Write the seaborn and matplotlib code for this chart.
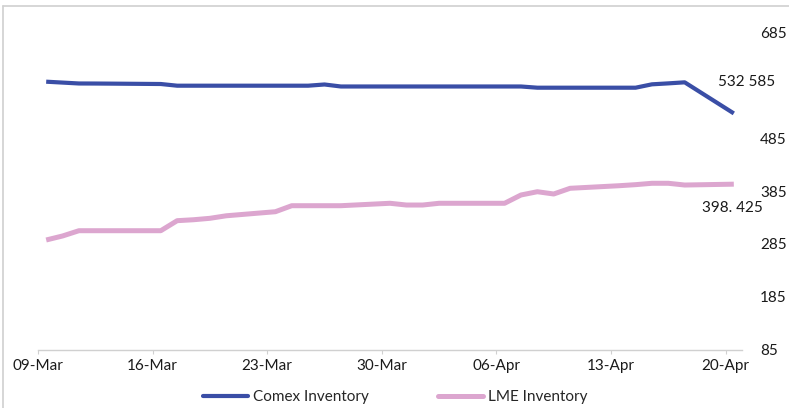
import matplotlib
matplotlib.use("Agg")
import matplotlib.pyplot as plt
import matplotlib.dates as mdates
from matplotlib.lines import Line2D
import seaborn as sns
import pandas as pd

dates = ["2020-03-09", "2020-03-10", "2020-03-11", "2020-03-12", "2020-03-13",
         "2020-03-16", "2020-03-17", "2020-03-18", "2020-03-19", "2020-03-20",
         "2020-03-23", "2020-03-24", "2020-03-25", "2020-03-26", "2020-03-27",
         "2020-03-30", "2020-03-31", "2020-04-01", "2020-04-02", "2020-04-03",
         "2020-04-06", "2020-04-07", "2020-04-08", "2020-04-09", "2020-04-10",
         "2020-04-13", "2020-04-14", "2020-04-15", "2020-04-16", "2020-04-17",
         "2020-04-20"]
comex = [592.7, 591.0, 589.3, 589.2, 589.0,
         588.3, 585.1, 585.1, 585.1, 585.1,
         585.1, 585.1, 585.1, 587.4, 583.6,
         583.6, 583.6, 583.6, 583.6, 583.6,
         583.6, 583.6, 581.3, 581.3, 581.3,
         581.3, 581.3, 587.7, 589.5, 591.5,
         532.585]
lme = [292.6, 300.2, 310.2, 310.2, 310.2,
       310.2, 329.2, 331.0, 333.7, 338.5,
       346.2, 357.6, 357.6, 357.6, 357.6,
       362.2, 358.9, 358.9, 362.2, 362.2,
       362.2, 377.9, 384.1, 379.8, 390.6,
       395.5, 397.5, 400.1, 400.1, 396.8,
       398.425]
series_names = ["Comex Inventory", "LME Inventory"]
end_labels = ["532 585", "398. 425"]
y_ticks = [85, 185, 285, 385, 485, 585, 685]
x_tick_dates = ["2020-03-09", "2020-03-16", "2020-03-23", "2020-03-30",
                "2020-04-06", "2020-04-13", "2020-04-20"]

colors = {"Comex Inventory": "#3a4ea6", "LME Inventory": "#dca6cf"}
widths = {"Comex Inventory": 3.0, "LME Inventory": 3.6}
FS = 11

sns.set_theme(style="white")
plt.rcParams["font.family"] = ["Lato", "DejaVu Sans"]

# points are drawn in the middle of each day (Excel date axis)
x = pd.to_datetime(dates) + pd.Timedelta(hours=12)
df = pd.DataFrame({
    "date": list(x) * 2,
    "value": comex + lme,
    "series": [series_names[0]] * len(comex) + [series_names[1]] * len(lme),
})

fig = plt.figure(figsize=(7.89, 4.08), dpi=100)
ax = fig.add_axes([38 / 789, 1 - 349.5 / 408, (742 - 38) / 789, (349.5 - 33) / 408])

for name in series_names:
    sub = df[df["series"] == name]
    sns.lineplot(data=sub, x="date", y="value", ax=ax, color=colors[name],
                 linewidth=widths[name], label=name, legend=False,
                 solid_capstyle="butt")

ax.set_xlim(pd.Timestamp("2020-03-09"), pd.Timestamp("2020-04-21"))
ax.set_ylim(85, 685)
ax.set_xlabel("")
ax.set_ylabel("")

ax.set_xticks(pd.to_datetime(x_tick_dates))
ax.xaxis.set_major_formatter(mdates.DateFormatter("%d-%b"))
ax.yaxis.tick_right()
ax.set_yticks(y_ticks)
ax.set_yticklabels([str(v) for v in y_ticks])
ax.tick_params(axis="y", length=0, pad=13, labelsize=FS, colors="#1a1a1a")
ax.tick_params(axis="x", direction="out", length=3, width=0.8, color="#d0d0d0",
               pad=4, labelsize=FS, labelcolor="#1a1a1a", bottom=True)

for s in ["top", "left", "right"]:
    ax.spines[s].set_visible(False)
ax.spines["bottom"].set_color("#d0d0d0")
ax.spines["bottom"].set_linewidth(1.0)

# the Comex data label sits over (and hides) the 585 tick label
for lbl, v in zip(ax.get_yticklabels(), y_ticks):
    if v == 585:
        lbl.set_visible(False)

ax.annotate(end_labels[0], xy=(x[-1], comex[-1]), xytext=(9.5, 22.5),
            textcoords="offset points", ha="center", va="center",
            fontsize=FS, color="#1a1a1a", annotation_clip=False)
ax.annotate(end_labels[1], xy=(x[-1], lme[-1]), xytext=(-1, -17),
            textcoords="offset points", ha="center", va="center",
            fontsize=FS, color="#1a1a1a", annotation_clip=False)

handles = [Line2D([0], [0], color=colors[n], linewidth=widths[n]) for n in series_names]
fig.legend(handles, series_names, loc="center", bbox_to_anchor=(395 / 789, 1 - 397 / 408),
           ncol=2, frameon=False, fontsize=FS, handlelength=3.0, handletextpad=0.3,
           columnspacing=4.5)

# chart-area frame remnants (left and top)
fig.add_artist(Line2D([3 / 789, 3 / 789], [0, 1 - 6 / 408], transform=fig.transFigure,
                      color="#d0d0d0", linewidth=1.2))
fig.add_artist(Line2D([3 / 789, 1], [1 - 6 / 408, 1 - 6 / 408], transform=fig.transFigure,
                      color="#d0d0d0", linewidth=1.2))

fig.savefig("out.png", dpi=100)
